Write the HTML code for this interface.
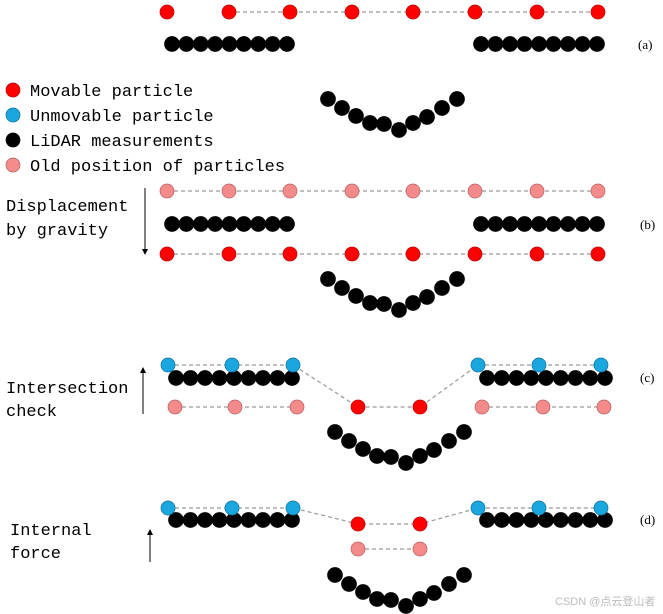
<!DOCTYPE html>
<html><head><meta charset="utf-8"><style>
html,body{margin:0;padding:0;background:#fff;width:663px;height:614px;overflow:hidden}
svg{display:block}
text{font-family:"Liberation Mono","DejaVu Sans Mono",monospace;font-size:17px;fill:#000}
.lbl{font-family:"Liberation Serif",serif;font-size:13px}
</style></head><body>
<svg id="s" width="663" height="614" viewBox="0 0 663 614" xmlns="http://www.w3.org/2000/svg">
<defs><marker id="ah" markerWidth="6" markerHeight="6" refX="3" refY="3" orient="auto"><path d="M0,0L6,3L0,6z" fill="#000"/></marker></defs>
<g id="lines" stroke="#999" stroke-width="1.2" stroke-dasharray="4,3" fill="none"></g>
<g id="dots"></g>
<text x="30" y="96">Movable particle</text>
<text x="30" y="121">Unmovable particle</text>
<text x="30" y="146">LiDAR measurements</text>
<text x="30" y="171">Old position of particles</text>
<text x="6" y="211">Displacement</text>
<text x="6" y="235">by gravity</text>
<text x="6" y="393">Intersection</text>
<text x="6" y="416">check</text>
<text x="10" y="535">Internal</text>
<text x="10" y="558">force</text>
<text class="lbl" x="638" y="49">(a)</text>
<text class="lbl" x="640" y="229">(b)</text>
<text class="lbl" x="640" y="382">(c)</text>
<text class="lbl" x="640" y="524">(d)</text>
<line x1="145" y1="188" x2="145" y2="252" stroke="#000" stroke-width="1" marker-end="url(#ah)"/>
<line x1="143" y1="414" x2="143" y2="370" stroke="#000" stroke-width="1" marker-end="url(#ah)"/>
<line x1="150" y1="562" x2="150" y2="532" stroke="#000" stroke-width="1" marker-end="url(#ah)"/>
<text x="555" y="605" style="font-family:'Liberation Sans','Noto Sans CJK SC',sans-serif;font-size:11px;fill:#bbb">CSDN @点云登山者</text>
</svg>
<script>
var NS="http://www.w3.org/2000/svg",D=document.getElementById('dots'),L=document.getElementById('lines');
var C={r:["#f00","#b00"],b:["#1aa7e0","#0c6f9c"],k:["#000","#000"],p:["#f58a8a","#b56060"]};
function c(x,y,t,r){var e=document.createElementNS(NS,'circle');e.setAttribute('cx',x);e.setAttribute('cy',y);e.setAttribute('r',r||7);e.setAttribute('fill',C[t][0]);e.setAttribute('stroke',C[t][1]);e.setAttribute('stroke-width',0.7);D.appendChild(e);}
function l(pts){var e=document.createElementNS(NS,'polyline');e.setAttribute('points',pts.map(p=>p.join(',')).join(' '));L.appendChild(e);}
function row(x0,x1,y){for(var i=0;i<9;i++)c(x0+(x1-x0)*i/8,y,'k',7.5);}
var V=[[328,99],[342,108],[356,116],[370,123],[384,124],[399,130],[413,123],[427,117],[442,108],[457,99]];
function vee(dx,dy){V.forEach(p=>c(p[0]+dx,p[1]+dy,'k',7.5));}
var X=[167,229,290,352,413,475,537,598];
// (a)
l(X.slice(1).map(x=>[x,12]));X.forEach(x=>c(x,12,'r'));
row(172,287,44);row(481,597,44);
// legend
c(13,90,'r');c(13,115,'b');c(13,140,'k');c(13,165,'p');
vee(0,0);
// (b)
l(X.map(x=>[x,191]));X.forEach(x=>c(x,191,'p'));
row(172,287,224);row(481,597,224);
l(X.map(x=>[x,254]));X.forEach(x=>c(x,254,'r'));
vee(0,180);
// (c)
var BL=[168,232,293],BR=[478,539,601];
row(176,292,378);row(487,605,378);
l([[168,365],[293,365],[358,407],[420,407],[478,365],[601,365]]);
l([[175,407],[297,407]]);l([[482,407],[604,407]]);
BL.concat(BR).forEach(x=>c(x,365,'b'));
[175,235,297,482,543,604].forEach(x=>c(x,407,'p'));
c(358,407,'r');c(420,407,'r');
vee(7,333);
// (d)
row(176,292,520);row(487,605,520);
l([[168,508],[293,508],[358,524],[420,524],[478,508],[601,508]]);
l([[358,549],[420,549]]);
BL.concat(BR).forEach(x=>c(x,508,'b'));
c(358,524,'r');c(420,524,'r');c(358,549,'p');c(420,549,'p');
vee(7,476);
</script>
</body></html>
